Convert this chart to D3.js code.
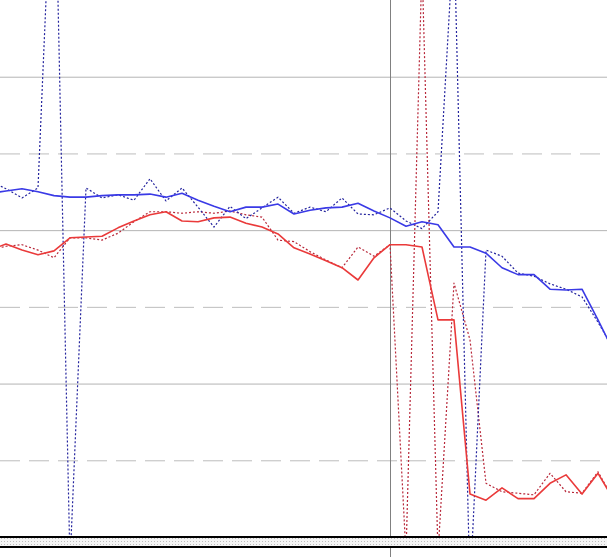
<!DOCTYPE html>
<html>
<head>
<meta charset="utf-8">
<script src="https://cdn.jsdelivr.net/npm/d3@7"></script>
<style>
  html, body { margin: 0; padding: 0; background: #ffffff; }
  svg { display: block; }
</style>
</head>
<body>
<svg id="chart" width="607" height="557"></svg>
<script>
// ---- data ----
const periods = [0,1,2,3,4,5,6,7,8,9,10,11,12,13,14,15,16,17,18,19,20,21,22,23,24,25,26,27,28,29,30,31,32,33,34,35,36,37,38,39];
const redSolid = [37.4,38.2,37.4,36.8,37.3,39.0,39.1,39.2,40.3,41.2,42.0,42.4,41.2,41.1,41.6,41.7,40.9,40.4,39.5,37.7,36.9,36.0,35.1,33.5,36.4,38.1,38.1,37.8,28.3,28.3,5.6,4.8,6.4,5.0,5.0,7.0,8.1,5.6,8.3,4.8];
const redDotted = [37.4,37.9,38.1,37.4,36.4,39.0,39.0,38.7,39.6,41.1,42.4,42.4,42.2,42.4,42.2,42.5,42.0,41.7,38.7,38.5,37.2,36.1,35.1,37.8,36.6,38.1,-2.3,74.8,-2.2,33.1,25.7,7.0,5.9,5.7,5.5,8.3,5.9,5.7,8.5,4.8];
const blueSolid = [44.8,45.1,45.4,45.0,44.5,44.3,44.3,44.5,44.6,44.6,44.7,44.3,44.8,43.9,43.1,42.4,43.0,43.0,43.4,42.1,42.6,42.9,43.0,43.5,42.5,41.6,40.5,41.1,40.7,37.8,37.8,37.0,35.1,34.2,34.2,32.3,32.2,32.3,28.3,24.1];
const blueDotted = [46.4,45.4,44.2,45.5,94.5,-3.5,45.5,44.2,44.6,43.9,46.7,43.8,45.5,43.0,40.4,43.1,41.5,42.9,44.3,42.2,43.0,42.4,44.2,42.1,42.0,42.9,41.2,40.2,42.4,79.1,-6.9,37.4,36.6,34.4,34.0,33.0,32.3,31.3,28.0,24.4];
const solidGridValues = [20, 40, 60];
const dashedGridValues = [10, 30, 50];
const markerPeriod = 25;

// ---- layout ----
const W = 607, H = 557;
const plotBottom = 537;
const svg = d3.select("#chart");

const x = d3.scaleLinear().domain([0, 39]).range([-10, 614]);
const y = d3.scaleLinear().domain([0, 70]).range([plotBottom, 0]);

const defs = svg.append("defs");
defs.append("clipPath").attr("id", "plotClip")
  .append("rect").attr("x", 0).attr("y", 0).attr("width", W).attr("height", plotBottom);

const pat = defs.append("pattern").attr("id", "dots")
  .attr("width", 3).attr("height", 3).attr("patternUnits", "userSpaceOnUse");
pat.append("rect").attr("width", 3).attr("height", 3).attr("fill", "#f4f4f4");
pat.append("rect").attr("x", 1).attr("y", 1).attr("width", 1).attr("height", 1).attr("fill", "#bcbcbc");

// grid via axes
const gSolid = svg.append("g").attr("class", "grid-solid")
  .call(d3.axisLeft(y).tickValues(solidGridValues).tickSize(-W).tickFormat(""));
gSolid.select(".domain").remove();
gSolid.selectAll(".tick line").attr("x1", 0).attr("x2", W)
  .attr("stroke", "#b4b4b4").attr("stroke-width", 1);

const gDash = svg.append("g").attr("class", "grid-dashed")
  .call(d3.axisLeft(y).tickValues(dashedGridValues).tickSize(-W).tickFormat(""));
gDash.select(".domain").remove();
gDash.selectAll(".tick line").attr("x1", 0).attr("x2", W)
  .attr("stroke", "#bdbdbd").attr("stroke-width", 1).attr("stroke-dasharray", "20,9");

// vertical marker
svg.append("line")
  .attr("x1", x(markerPeriod) + 0.5).attr("x2", x(markerPeriod) + 0.5)
  .attr("y1", 0).attr("y2", H)
  .attr("stroke", "#808080").attr("stroke-width", 1);

const line = d3.line().x((d, i) => x(periods[i])).y(d => y(d));
const plot = svg.append("g").attr("clip-path", "url(#plotClip)");

const series = [
  { data: redDotted, color: "#b8283a", width: 1.2, dash: "2,2" },
  { data: blueDotted, color: "#24249e", width: 1.2, dash: "2,2" },
  { data: redSolid, color: "#ea3a3a", width: 1.6, dash: null },
  { data: blueSolid, color: "#3a3ae6", width: 1.6, dash: null }
];
series.forEach(s => {
  plot.append("path").datum(s.data)
    .attr("d", line)
    .attr("fill", "none")
    .attr("stroke", s.color)
    .attr("stroke-width", s.width)
    .attr("stroke-dasharray", s.dash)
    .attr("stroke-linejoin", "round");
});

// bottom band
svg.append("rect").attr("x", 0).attr("y", plotBottom).attr("width", W).attr("height", 10)
  .attr("fill", "url(#dots)");
svg.append("line").attr("x1", 0).attr("x2", W).attr("y1", plotBottom).attr("y2", plotBottom)
  .attr("stroke", "#000").attr("stroke-width", 2);
svg.append("line").attr("x1", 0).attr("x2", W).attr("y1", plotBottom + 10).attr("y2", plotBottom + 10)
  .attr("stroke", "#000").attr("stroke-width", 2);
</script>
</body>
</html>
